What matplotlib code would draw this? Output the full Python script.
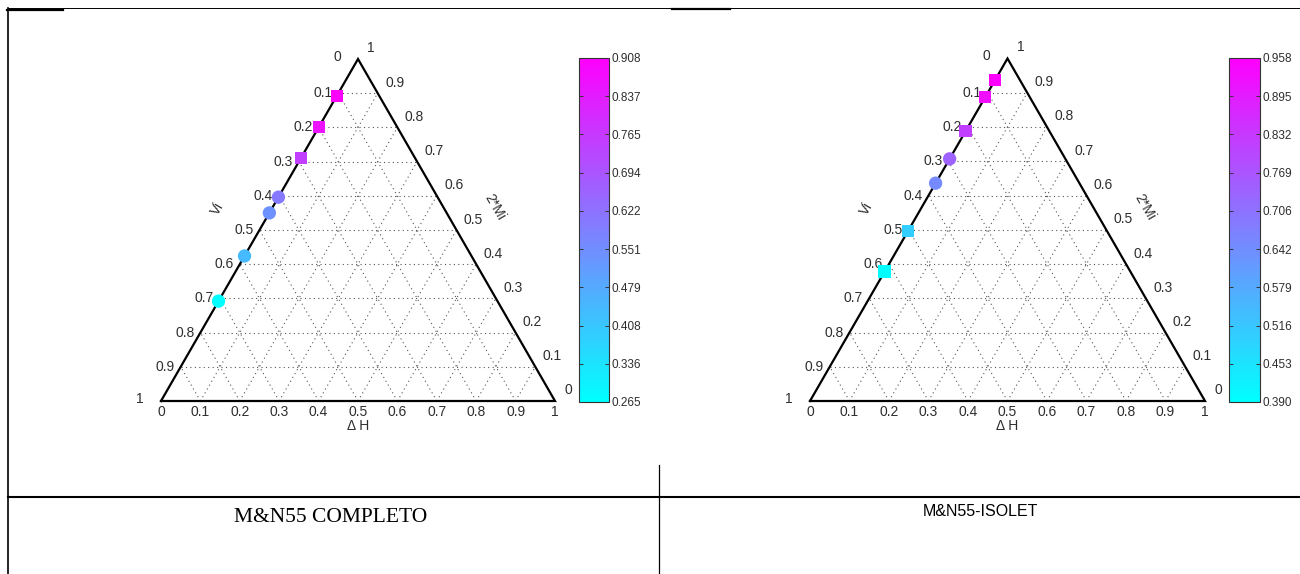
import matplotlib

matplotlib.use("Agg")
import matplotlib.pyplot as plt
import numpy as np
from matplotlib.cm import ScalarMappable
from matplotlib.colors import Normalize
from matplotlib.lines import Line2D

W, H = 1300, 574
SQ3 = np.sqrt(3) / 2

# ternary points (Delta H, Vi); 2*Mi is the remainder
completo_dh = [0, 0, 0, 0, 0, 0, 0]
completo_vi = [0.108, 0.199, 0.289, 0.404, 0.450, 0.576, 0.708]
completo_val = [0.908, 0.860, 0.750, 0.600, 0.540, 0.440, 0.265]
completo_marker = ["s", "s", "s", "o", "o", "o", "o"]
completo_range = (0.265, 0.908)

isolet_dh = [0, 0, 0, 0, 0, 0, 0]
isolet_vi = [0.063, 0.113, 0.212, 0.293, 0.364, 0.504, 0.622]
isolet_val = [0.958, 0.925, 0.820, 0.740, 0.650, 0.500, 0.390]
isolet_marker = ["s", "s", "s", "o", "o", "s", "s"]
isolet_range = (0.390, 0.958)

tick_values = [round(0.1 * k, 1) for k in range(11)]
tick_labels = ["0", "0.1", "0.2", "0.3", "0.4", "0.5", "0.6", "0.7", "0.8", "0.9", "1"]
captions = ["M&N55 COMPLETO", "M&N55-ISOLET"]

TXT = "#2e2e2e"
plt.rcParams["font.family"] = ["Liberation Sans", "DejaVu Sans"]


def px_rect(left, top, width, height):
    """Pixel box (top-left origin) to figure fraction rect."""
    return [left / W, 1 - (top + height) / H, width / W, height / H]


def to_xy(dh, vi):
    dh = np.asarray(dh, float)
    vi = np.asarray(vi, float)
    c = 1 - dh - vi
    return dh + c / 2, c * SQ3


def draw_ternary(fig, rect, cbar_rect, dh, vi, vals, markers, vrange):
    ax = fig.add_axes(px_rect(*rect))
    ax.set_xlim(0, 1)
    ax.set_ylim(0, SQ3)
    ax.axis("off")

    # dotted grid in the three directions
    grid = dict(color="#555555", lw=0.8, ls=(0, (1, 3)), zorder=1)
    for k in tick_values[1:-1]:
        ax.plot([k / 2, 1 - k / 2], [k * SQ3, k * SQ3], **grid)
        ax.plot([k, k + (1 - k) / 2], [0, (1 - k) * SQ3], **grid)
        ax.plot([1 - k, (1 - k) / 2], [0, (1 - k) * SQ3], **grid)

    ax.plot([0, 1, 0.5, 0], [0, 0, SQ3, 0], color="black", lw=1.6,
            solid_joinstyle="miter", zorder=2, clip_on=False)

    lab = dict(textcoords="offset pixels", fontsize=10, color=TXT,
               annotation_clip=False)
    for k, t in zip(tick_values, tick_labels):
        # bottom: Delta H
        ax.annotate(t, (k, 0), xytext=(0, -4), ha="center", va="top", **lab)
        # left: Vi
        c = 1 - k
        off = (-17, 2) if k in (0, 1) else (-6, 0)
        ax.annotate(t, (c / 2, c * SQ3), xytext=off, ha="right", va="center", **lab)
        # right: 2*Mi
        off = (13, 11.5) if k in (0, 1) else (17, 10.5)
        ax.annotate(t, (1 - k / 2, k * SQ3), xytext=off, ha="center",
                    va="center", **lab)

    ax.annotate("Δ H", (0.5, 0), xytext=(0, -25), ha="center", va="center", **lab)
    ax.annotate("Vi", (0.25, SQ3 / 2), xytext=(-42, 21), ha="center",
                va="center", rotation=60, **lab)
    ax.annotate("2*Mi", (0.75, SQ3 / 2), xytext=(38, 23), ha="center",
                va="center", rotation=-60, **lab)

    norm = Normalize(*vrange)
    x, y = to_xy(dh, vi)
    vals = np.asarray(vals)
    markers = np.asarray(markers)
    for m in ("s", "o"):
        sel = markers == m
        ax.scatter(x[sel], y[sel], c=vals[sel], cmap="cool", norm=norm,
                   marker=m, s=80 if m == "s" else 92, linewidths=0,
                   zorder=3, clip_on=False)

    cax = fig.add_axes(px_rect(*cbar_rect))
    cb = fig.colorbar(ScalarMappable(norm=norm, cmap="cool"), cax=cax)
    ticks = np.linspace(vrange[0], vrange[1], 10)
    cb.set_ticks(ticks, labels=[f"{t:.3f}" for t in ticks])
    cb.outline.set_linewidth(0.8)
    cb.outline.set_edgecolor("#333333")
    cax.tick_params(axis="y", which="both", direction="in", length=3,
                    width=0.7, left=True, right=True, labelsize=8.5,
                    labelcolor=TXT, pad=1.5, color="#333333")
    cax.minorticks_off()
    return ax


fig = plt.figure(figsize=(W / 100, H / 100), dpi=100)

draw_ternary(fig, (161, 59, 394, 342), (579, 58, 30, 344),
             completo_dh, completo_vi, completo_val, completo_marker,
             completo_range)
draw_ternary(fig, (810, 58.5, 395, 342.5), (1229, 58, 31, 344),
             isolet_dh, isolet_vi, isolet_val, isolet_marker, isolet_range)


def rule(x0, y0, x1, y1, lw):
    fig.add_artist(Line2D([x0 / W, x1 / W], [1 - y0 / H, 1 - y1 / H],
                          transform=fig.transFigure, color="black", lw=lw))


# table borders around the figures
rule(8, 8, 1300, 8, 0.7)
rule(7, 9.5, 63, 9.5, 1.6)
rule(672, 9, 730, 9, 1.6)
rule(8, 8, 8, 574, 1.2)
rule(8, 497, 1300, 497, 1.5)
rule(659, 465, 659, 574, 0.9)

fig.text(331 / W, 1 - 517 / H, captions[0], ha="center", va="center",
         family=["Liberation Serif", "DejaVu Serif"], fontsize=15.5,
         color="black")
fig.text(980 / W, 1 - 512 / H, captions[1], ha="center", va="center",
         family=["Liberation Sans", "DejaVu Sans"], fontsize=11.5,
         color="black")

fig.savefig("out.png", dpi=100)
